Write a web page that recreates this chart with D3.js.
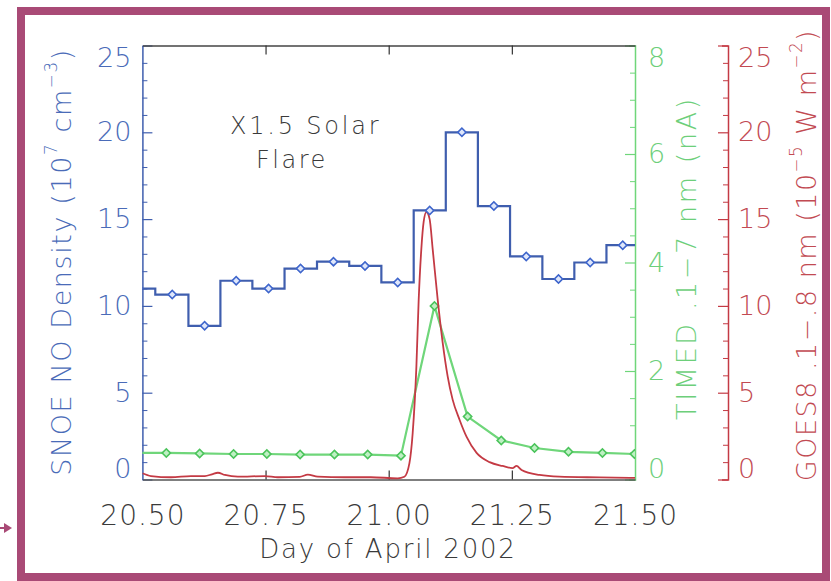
<!DOCTYPE html>
<html>
<head>
<meta charset="utf-8">
<script src="https://cdn.jsdelivr.net/npm/d3@7"></script>
<style>
  html, body { margin: 0; padding: 0; background: #fff; }
  svg { display: block; }
  text { font-family: "DejaVu Sans", "Liberation Sans", sans-serif; font-weight: 200; }
</style>
</head>
<body>
<svg id="chart" width="831" height="581"></svg>
<script>
// ---------- data ----------
const xTicks = [20.50, 20.75, 21.00, 21.25, 21.50];
const blueTicks = [0, 5, 10, 15, 20, 25];
const greenTicks = [0, 2, 4, 6, 8];
const redTicks = [0, 5, 10, 15, 20, 25];

// SNOE NO density (10^7 cm^-3), one value per orbit
const snoeDay = [20.4917, 20.5606, 20.6263, 20.6904, 20.7561, 20.8210, 20.8879, 20.9519,
                 21.0183, 21.0832, 21.1486, 21.2135, 21.2792, 21.3447, 21.4090, 21.4751];
const snoeDensity = [11.0, 10.65, 8.85, 11.45, 11.0, 12.15, 12.55, 12.3,
                     11.35, 15.5, 20.0, 15.75, 12.85, 11.55, 12.5, 13.5];

// TIMED 0.1-7 nm (nA)
const timedDay = [20.4806, 20.5485, 20.6162, 20.6851, 20.7526, 20.8202, 20.8899, 20.9574,
                  21.0249, 21.0929, 21.1602, 21.2285, 21.2960, 21.3650, 21.4339, 21.4988];
const timedCurrent = [0.49, 0.49, 0.48, 0.47, 0.47, 0.46, 0.46, 0.46,
                      0.44, 3.2, 1.16, 0.72, 0.58, 0.51, 0.49, 0.47];

// GOES-8 0.1-0.8 nm (10^-5 W m^-2)
const goesDay = [20.500, 20.5174, 20.5580, 20.5985, 20.6269, 20.6411, 20.6533, 20.6675,
                 20.6938, 20.7486, 20.7749, 20.8195, 20.8358, 20.8560, 20.9108, 20.9635,
                 21.0183, 21.0318, 21.0420, 21.0487, 21.0562, 21.0608, 21.0663, 21.0710,
                 21.0764, 21.0831, 21.0892, 21.0993, 21.1095, 21.1196, 21.1298, 21.1440,
                 21.1582, 21.1784, 21.2048, 21.2311, 21.2514, 21.2595, 21.2697, 21.3062,
                 21.3462, 21.4274, 21.500];
const goesFlux = [0.36, 0.2, 0.13, 0.2, 0.2, 0.3, 0.39, 0.26,
                  0.16, 0.2, 0.13, 0.15, 0.28, 0.16, 0.13, 0.13,
                  0.07, 0.16, 0.93, 2.68, 6.5, 10.3, 13.3, 14.85,
                  15.4, 15.0, 13.3, 10.4, 7.9, 5.96, 4.6, 3.43,
                  2.45, 1.53, 1.0, 0.78, 0.66, 0.78, 0.55, 0.26,
                  0.16, 0.12, 0.09];

// ---------- layout ----------
const L = 142.4, R = 635, T = 45.5, B = 479.5;
const redAxisX = 728;
const cBorder = "#a94a76", cBlue = "#3f5eae", cBlueText = "#4a6bb8",
      cGreen = "#6fd67a", cGreenDark = "#4cc45c", cGreenText = "#6dcf7a",
      cRed = "#c43a44", cRedText = "#c24a52", cText = "#3a3a3a";

const svg = d3.select("#chart");

// border frame
svg.append("rect").attr("x", 21).attr("y", 11).attr("width", 805).attr("height", 566)
  .attr("fill", "#fff").attr("stroke", cBorder).attr("stroke-width", 8);
// small arrow at left
svg.append("line").attr("x1", 0).attr("x2", 7).attr("y1", 528).attr("y2", 528)
  .attr("stroke", cBorder).attr("stroke-width", 2);
svg.append("path").attr("d", "M4,523 L12,528 L4,533 Z").attr("fill", cBorder);

const x = d3.scaleLinear().domain([20.5, 21.5]).range([L, R]);
const yB = d3.scaleLinear().domain([0, 25]).range([B, T]);
const yG = d3.scaleLinear().domain([0, 8]).range([B, T]);
const yR = d3.scaleLinear().domain([0, 25]).range([B, T]);

svg.append("clipPath").attr("id", "plotclip").append("rect")
  .attr("x", L).attr("y", T - 2).attr("width", R - L).attr("height", B - T + 4);

const tickFont = 27;

function endShift(sel, scale) {
  const d = scale.domain();
  sel.selectAll(".tick text").attr("y", v => v === d[1] ? 12 : (v === d[0] ? -11 : 0));
}
function styleText(sel, color, size) {
  sel.selectAll(".tick text").attr("fill", color).attr("font-size", size)
    .attr("font-family", "DejaVu Sans").attr("font-weight", 200);
}

// ----- left (blue) axis -----
const gL = svg.append("g").attr("transform", `translate(${L},0)`);
gL.call(d3.axisLeft(yB).tickValues(d3.range(0, 26, 1).filter(v => v % 5)).tickFormat("").tickSizeInner(-5).tickSizeOuter(0));
gL.select(".domain").remove();
gL.selectAll("line").attr("stroke", cBlue);
const gL2 = svg.append("g").attr("transform", `translate(${L},0)`);
gL2.call(d3.axisLeft(yB).tickValues(blueTicks).tickFormat(d3.format("d")).tickSizeInner(-10).tickSizeOuter(0).tickPadding(11));
gL2.select(".domain").attr("stroke", cBlue).attr("stroke-width", 1.5);
gL2.selectAll(".tick line").attr("stroke", cBlue).attr("stroke-width", 1.2);
styleText(gL2, cBlueText, tickFont);
endShift(gL2, yB);

// ----- right (green) axis -----
const gG = svg.append("g").attr("transform", `translate(${R},0)`);
gG.call(d3.axisRight(yG).tickValues(d3.range(0, 8.01, 0.5).filter(v => v % 2)).tickFormat("").tickSizeInner(-5).tickSizeOuter(0));
gG.select(".domain").remove();
gG.selectAll("line").attr("stroke", cGreen);
const gG2 = svg.append("g").attr("transform", `translate(${R},0)`);
gG2.call(d3.axisRight(yG).tickValues(greenTicks).tickFormat(d3.format("d")).tickSizeInner(-10).tickSizeOuter(-6).tickPadding(13));
gG2.select(".domain").attr("stroke", cGreen).attr("stroke-width", 1.5);
gG2.selectAll(".tick line").attr("stroke", cGreen).attr("stroke-width", 1.2);
styleText(gG2, cGreenText, tickFont);
endShift(gG2, yG);

// ----- far right (red) axis -----
const gR = svg.append("g").attr("transform", `translate(${redAxisX},0)`);
gR.call(d3.axisRight(yR).tickValues(d3.range(0, 26, 1).filter(v => v % 5)).tickFormat("").tickSizeInner(-5).tickSizeOuter(0));
gR.select(".domain").remove();
gR.selectAll("line").attr("stroke", cRed);
const gR2 = svg.append("g").attr("transform", `translate(${redAxisX},0)`);
gR2.call(d3.axisRight(yR).tickValues(redTicks).tickFormat(d3.format("d")).tickSizeInner(-10).tickSizeOuter(-6).tickPadding(10));
gR2.select(".domain").attr("stroke", cRed).attr("stroke-width", 1.5);
gR2.selectAll(".tick line").attr("stroke", cRed).attr("stroke-width", 1.2);
styleText(gR2, cRedText, tickFont);
endShift(gR2, yR);

// ----- bottom & top x axes -----
const gB = svg.append("g").attr("transform", `translate(0,${B})`);
gB.call(d3.axisBottom(x).tickValues(xTicks).tickFormat(d3.format(".2f")).tickSizeInner(-9).tickSizeOuter(0).tickPadding(26));
gB.select(".domain").attr("stroke", "#555").attr("stroke-width", 1.5);
gB.selectAll(".tick line").attr("stroke", "#333").attr("stroke-width", 1.2)
  .attr("display", v => (v === 20.5 || v === 21.5) ? "none" : null);
styleText(gB, cText, 28);
gB.selectAll(".tick text").attr("letter-spacing", 1);

const gT = svg.append("g").attr("transform", `translate(0,${T})`);
gT.call(d3.axisTop(x).tickValues(xTicks.slice(1, -1)).tickFormat("").tickSizeInner(-9).tickSizeOuter(0));
gT.select(".domain").attr("stroke", "#444").attr("stroke-width", 1.5);
gT.selectAll(".tick line").attr("stroke", "#333").attr("stroke-width", 1.2);

// ----- data marks -----
const plot = svg.append("g").attr("clip-path", "url(#plotclip)");

// SNOE histogram-style steps
const sx = snoeDay.map(d => x(d));
let dPath = "";
snoeDensity.forEach((v, i) => {
  const left = i === 0 ? sx[0] - (sx[1] - sx[0]) / 2 : (sx[i - 1] + sx[i]) / 2;
  const right = i === sx.length - 1 ? sx[i] + (sx[i] - sx[i - 1]) / 2 : (sx[i] + sx[i + 1]) / 2;
  dPath += (i === 0 ? `M${left},${yB(v)}` : `V${yB(v)}`) + `H${right}`;
});
plot.append("path").attr("d", dPath).attr("fill", "none")
  .attr("stroke", cBlue).attr("stroke-width", 2.2);

const diamond = d3.symbol().type(d3.symbolSquare).size(34);

// TIMED line
const timed = timedDay.map((d, i) => [d, timedCurrent[i]]);
plot.append("path").datum(timed)
  .attr("d", d3.line().x(d => x(d[0])).y(d => yG(d[1])))
  .attr("fill", "none").attr("stroke", cGreen).attr("stroke-width", 2.2);
plot.selectAll(".gm").data(timed).join("path")
  .attr("transform", d => `translate(${x(d[0])},${yG(d[1])}) rotate(45)`)
  .attr("d", diamond).attr("fill", "#bff0c4").attr("stroke", cGreenDark).attr("stroke-width", 1.6);

// GOES flux
const goes = goesDay.map((d, i) => [d, goesFlux[i]]);
plot.append("path").datum(goes)
  .attr("d", d3.line().x(d => x(d[0])).y(d => yR(d[1])).curve(d3.curveMonotoneX))
  .attr("fill", "none").attr("stroke", cRed).attr("stroke-width", 1.8);

// SNOE markers
const snoe = snoeDay.map((d, i) => [d, snoeDensity[i]]);
plot.selectAll(".bm").data(snoe).join("path")
  .attr("transform", d => `translate(${x(d[0])},${yB(d[1])}) rotate(45)`)
  .attr("d", diamond).attr("fill", "#dfe7fb").attr("stroke", "#3f66cc").attr("stroke-width", 1.6);

// ----- annotation -----
svg.append("text").attr("x", 230).attr("y", 134).attr("fill", cText).attr("font-size", 24)
  .attr("letter-spacing", 2.8).text("X1.5 Solar");
svg.append("text").attr("x", 256).attr("y", 168).attr("fill", cText).attr("font-size", 24)
  .attr("letter-spacing", 2.5).text("Flare");

// ----- axis titles -----
svg.append("text").attr("x", 388).attr("y", 558).attr("text-anchor", "middle")
  .attr("fill", cText).attr("font-size", 26).attr("letter-spacing", 1.8).text("Day of April 2002");

function rotTitle(cx, cy, color, size, ls, parts) {
  const t = svg.append("text").attr("transform", `translate(${cx},${cy}) rotate(-90)`)
    .attr("text-anchor", "middle").attr("dominant-baseline", "central")
    .attr("fill", color).attr("font-size", size).attr("letter-spacing", ls);
  parts.forEach(p => {
    const s = t.append("tspan").text(p[0]);
    if (p[1]) s.attr("baseline-shift", "super").attr("font-size", size * 0.62);
  });
  return t;
}
rotTitle(61, 262, cBlueText, 27, 1.6, [["SNOE NO Density (10"], ["7", 1], [" cm"], ["\u22123", 1], [")"]]);
rotTitle(686, 258, cGreenText, 27, 2.6, [["TIMED .1\u22127 nm (nA)"]]);
rotTitle(806, 255, cRedText, 27, 1.5, [["GOES8 .1\u2212.8 nm (10"], ["\u22125", 1], [" W m"], ["\u22122", 1], [")"]]);
</script>
</body>
</html>
